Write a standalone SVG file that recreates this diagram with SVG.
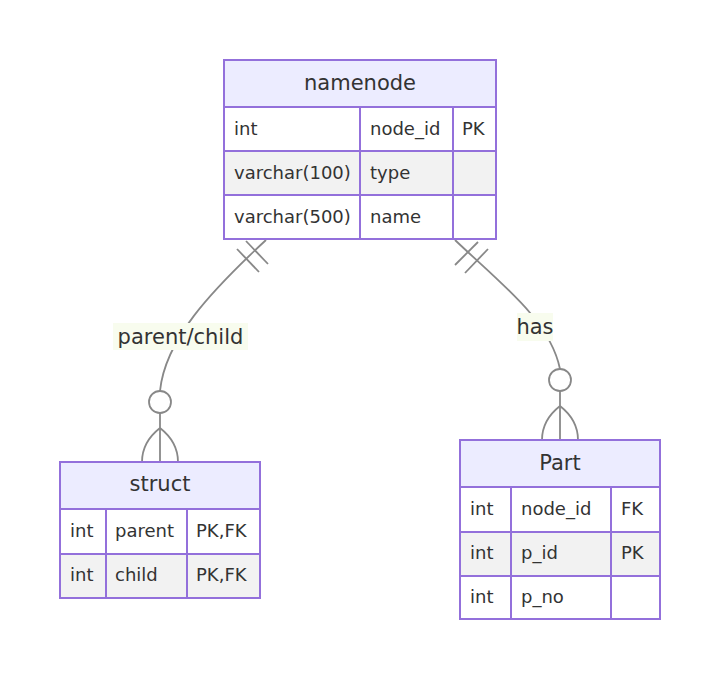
<svg xmlns="http://www.w3.org/2000/svg" width="720" height="680" viewBox="0 0 720 680">
<style>
.bg{fill:#ffffff}
.hdr{fill:#ECECFF;stroke:#9370DB;stroke-width:2}
.odd{fill:#ffffff;stroke:#9370DB;stroke-width:2}
.even{fill:#f2f2f2;stroke:#9370DB;stroke-width:2}
.col{stroke:#9370DB;stroke-width:2}
.ht{font-family:"DejaVu Sans",Verdana,sans-serif;font-size:21px;fill:#333333;text-anchor:middle}
.rt{font-family:"DejaVu Sans",Verdana,sans-serif;font-size:18px;fill:#333333}
.rel{fill:none;stroke:#888888;stroke-width:1.8}
.lblbox{fill:#f8fcee}
.lbl{font-family:"DejaVu Sans",Verdana,sans-serif;font-size:21px;fill:#333333;text-anchor:middle}
</style>
<rect class="bg" x="0" y="0" width="720" height="680"/>

<g id="connectors">
  <g id="rel-parent-child">
    <path class="rel" d="M266,240 C210,292 165,340 160,391"/>
    <line class="rel" x1="246" y1="241" x2="268" y2="264"/>
    <line class="rel" x1="237" y1="249" x2="259" y2="272"/>
    <circle class="rel" cx="160" cy="402" r="11"/>
    <line class="rel" x1="160" y1="413" x2="160" y2="462"/>
    <path class="rel" d="M160,428 Q142,442 142,462"/>
    <path class="rel" d="M160,428 Q178,442 178,462"/>
    <rect class="lblbox" x="113" y="323" width="135" height="27"/>
    <text class="lbl" x="180.5" y="344">parent/child</text>
  </g>
  <g id="rel-has">
    <path class="rel" d="M455,240 C500,283 550,320 560,369"/>
    <line class="rel" x1="455" y1="265" x2="478" y2="242"/>
    <line class="rel" x1="465" y1="273" x2="488" y2="249"/>
    <circle class="rel" cx="560" cy="380" r="11"/>
    <line class="rel" x1="560" y1="391" x2="560" y2="440"/>
    <path class="rel" d="M560,406 Q542,420 542,440"/>
    <path class="rel" d="M560,406 Q578,420 578,440"/>
    <rect class="lblbox" x="517" y="313" width="36" height="28"/>
    <text class="lbl" x="535" y="334">has</text>
  </g>
</g>

<g id="namenode">
  <rect class="hdr" x="224" y="60" width="272" height="47"/>
  <rect class="odd" x="224" y="107" width="272" height="44"/>
  <rect class="even" x="224" y="151" width="272" height="44"/>
  <rect class="odd" x="224" y="195" width="272" height="44"/>
  <line class="col" x1="360" y1="107" x2="360" y2="239"/>
  <line class="col" x1="453" y1="107" x2="453" y2="239"/>
  <text class="ht" x="360" y="90">namenode</text>
  <text class="rt" x="234" y="135">int</text>
  <text class="rt" x="370" y="135">node_id</text>
  <text class="rt" x="462" y="135">PK</text>
  <text class="rt" x="234" y="179">varchar(100)</text>
  <text class="rt" x="370" y="179">type</text>
  <text class="rt" x="234" y="223">varchar(500)</text>
  <text class="rt" x="370" y="223">name</text>
</g>

<g id="struct">
  <rect class="hdr" x="60" y="462" width="200" height="47"/>
  <rect class="odd" x="60" y="509" width="200" height="45"/>
  <rect class="even" x="60" y="554" width="200" height="44"/>
  <line class="col" x1="106" y1="509" x2="106" y2="598"/>
  <line class="col" x1="187" y1="509" x2="187" y2="598"/>
  <text class="ht" x="160" y="491">struct</text>
  <text class="rt" x="70" y="537">int</text>
  <text class="rt" x="115" y="537">parent</text>
  <text class="rt" x="196" y="537">PK,FK</text>
  <text class="rt" x="70" y="581">int</text>
  <text class="rt" x="115" y="581">child</text>
  <text class="rt" x="196" y="581">PK,FK</text>
</g>

<g id="Part">
  <rect class="hdr" x="460" y="440" width="200" height="47"/>
  <rect class="odd" x="460" y="487" width="200" height="45"/>
  <rect class="even" x="460" y="532" width="200" height="44"/>
  <rect class="odd" x="460" y="576" width="200" height="43"/>
  <line class="col" x1="511" y1="487" x2="511" y2="619"/>
  <line class="col" x1="611" y1="487" x2="611" y2="619"/>
  <text class="ht" x="560" y="470">Part</text>
  <text class="rt" x="470" y="515">int</text>
  <text class="rt" x="521" y="515">node_id</text>
  <text class="rt" x="621" y="515">FK</text>
  <text class="rt" x="470" y="559">int</text>
  <text class="rt" x="521" y="559">p_id</text>
  <text class="rt" x="621" y="559">PK</text>
  <text class="rt" x="470" y="603">int</text>
  <text class="rt" x="521" y="603">p_no</text>
</g>
</svg>
